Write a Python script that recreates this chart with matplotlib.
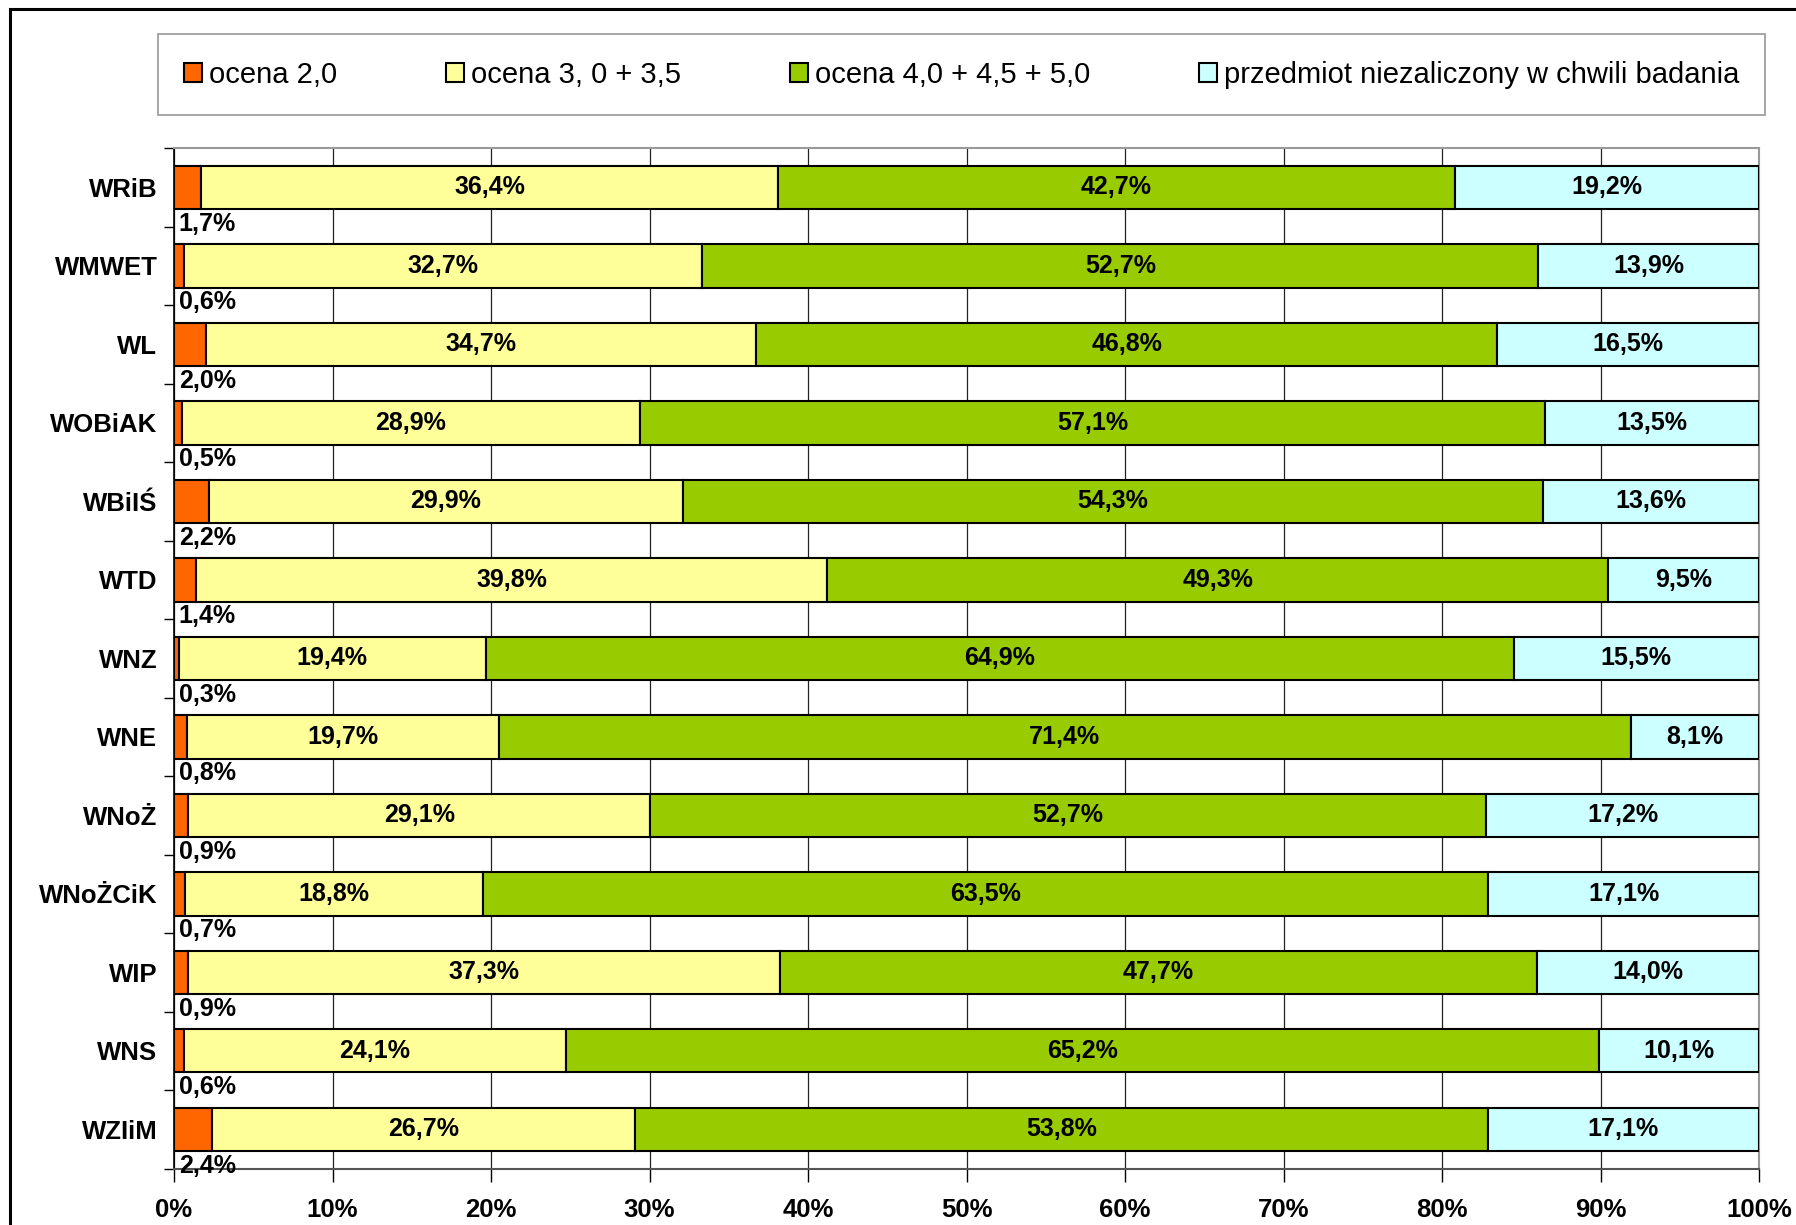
import numpy as np
import matplotlib
matplotlib.use('Agg')
import matplotlib.pyplot as plt
from matplotlib.patches import Rectangle

plt.rcParams['font.family'] = ['Liberation Sans', 'DejaVu Sans']

# Dane
wydzialy = ['WRiB', 'WMWET', 'WL', 'WOBiAK', 'WBiIŚ', 'WTD', 'WNZ', 'WNE',
            'WNoŻ', 'WNoŻCiK', 'WIP', 'WNS', 'WZIiM']
ocena_2 = [1.7, 0.6, 2.0, 0.5, 2.2, 1.4, 0.3, 0.8, 0.9, 0.7, 0.9, 0.6, 2.4]
ocena_3 = [36.4, 32.7, 34.7, 28.9, 29.9, 39.8, 19.4, 19.7, 29.1, 18.8, 37.3, 24.1, 26.7]
ocena_4 = [42.7, 52.7, 46.8, 57.1, 54.3, 49.3, 64.9, 71.4, 52.7, 63.5, 47.7, 65.2, 53.8]
niezal = [19.2, 13.9, 16.5, 13.5, 13.6, 9.5, 15.5, 8.1, 17.2, 17.1, 14.0, 10.1, 17.1]

serie = ['ocena 2,0', 'ocena 3, 0 + 3,5', 'ocena 4,0 + 4,5 + 5,0',
         'przedmiot niezaliczony w chwili badania']
kolory = ['#FF6600', '#FFFF99', '#99CC00', '#CCFFFF']

dane = np.array([ocena_2, ocena_3, ocena_4, niezal])
# wykres 100% skumulowany
proc = dane / dane.sum(axis=0) * 100

fig = plt.figure(figsize=(17.96, 12.25), dpi=100)
ax = fig.add_axes([0.0969, 0.046, 0.8825, 0.833])

y = np.arange(len(wydzialy))
left = np.zeros(len(wydzialy))
for i in range(4):
    ax.barh(y, proc[i], left=left, height=0.55, color=kolory[i],
            edgecolor='black', linewidth=1.5, label=serie[i], zorder=3)
    for j in range(len(wydzialy)):
        txt = f'{dane[i, j]:.1f}%'.replace('.', ',')
        if i == 0:
            ax.text(0.3, y[j] + 0.46, txt, ha='left', va='center',
                    fontsize=18, fontweight='bold', zorder=5)
        else:
            ax.text(left[j] + proc[i, j] / 2, y[j], txt, ha='center',
                    va='center', fontsize=18, fontweight='bold', zorder=5)
    left += proc[i]

ax.set_xlim(0, 100)
ax.set_ylim(len(wydzialy) - 0.5, -0.5)
ax.set_xticks(np.arange(0, 101, 10))
ax.set_xticklabels([f'{v}%' for v in range(0, 101, 10)], fontsize=18.5,
                   fontweight='bold')
ax.set_yticks(y)
ax.set_yticklabels(wydzialy, fontsize=18.5, fontweight='bold')
ax.set_yticks(np.arange(-0.5, len(wydzialy), 1), minor=True)
ax.tick_params(axis='y', which='major', length=0, pad=12)
ax.tick_params(axis='y', which='minor', length=7, width=1, direction='out')
ax.tick_params(axis='x', length=9, width=1, direction='out', pad=12)
ax.grid(axis='x', color='#222222', linewidth=0.9, zorder=0)

for s in ['top', 'right']:
    ax.spines[s].set_color('#999999')
    ax.spines[s].set_linewidth(1.5)
ax.spines['bottom'].set_color('#555555')
ax.spines['bottom'].set_linewidth(1.5)
ax.spines['left'].set_color('black')
ax.spines['left'].set_linewidth(1.2)

leg = fig.legend(loc='upper left', bbox_to_anchor=(0.088, 0.906, 0.895, 0.066),
                 ncol=4, mode='expand', fontsize=21, frameon=True,
                 fancybox=False, edgecolor='#888888', handlelength=0.6,
                 handleheight=0.6, handletextpad=0.25, borderpad=0.9,
                 borderaxespad=0)
leg.get_frame().set_linewidth(1.3)

# ramka wokół całego wykresu
fig.patches.append(Rectangle((0.0056, -0.05), 1.2, 1.043, transform=fig.transFigure,
                             fill=False, edgecolor='black', linewidth=2.2))

fig.savefig('out.png', dpi=100)
